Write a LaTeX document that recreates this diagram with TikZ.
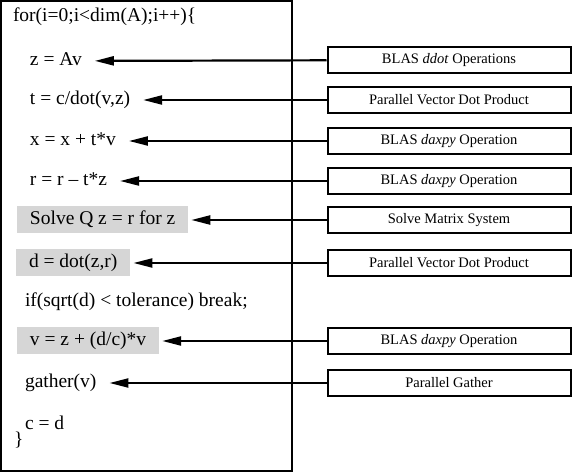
\documentclass[tikz,border=0pt]{standalone}
\usepackage{fontspec}
\setmainfont{Liberation Serif}
\usetikzlibrary{arrows.meta}

\begin{document}
\begin{tikzpicture}[x=1pt, y=-1pt,
  stmt/.style={anchor=west, font=\fontsize{19.5}{22}\selectfont, inner xsep=0pt, outer xsep=13pt, inner ysep=0pt, text height=14pt, text depth=5pt},
  shaded/.style={stmt, fill=gray!32, inner xsep=13pt, outer xsep=3pt, inner ysep=4pt},
  opbox/.style={rectangle, draw=black, line width=2pt, minimum width=243pt, minimum height=26pt, inner sep=0pt, text centered, font=\fontsize{14.5}{16}\selectfont},
  feed/.style={line width=2.2pt, -{Triangle[length=19pt,width=9pt]}}]
\useasboundingbox (0,0) rectangle (574,473);

% loop body
\draw[line width=2.6pt] (1,1) rectangle (292,471);

\node (head) [stmt] at (0,17) {for(i=0;i<dim(A);i++)\{};
\node (zav) [stmt] at (17,61) {z = Av};
\node (tdot) [stmt] at (17,100) {t = c/dot(v,z)};
\node (xupd) [stmt] at (17,141) {x = x + t*v};
\node (rupd) [stmt] at (17,181) {r = r -- t*z};
\node (solve) [shaded] at (14,220) {Solve Q z = r for z};
\node (dprod) [shaded] at (13,263) {d = dot(z,r)};
\node (test) [stmt] at (12,302) {if(sqrt(d) < tolerance) break;};
\node (vupd) [shaded] at (14,341) {v = z + (d/c)*v};
\node (gath) [stmt] at (12,383) {gather(v)};
\node (cupd) [stmt] at (12,425) {c = d};
\node (tail) [stmt] at (1,441) {\}};

% operations
\node (blas1) [opbox] at (449,60) {BLAS \textit{ddot} Operations};
\node (pdot1) [opbox] at (449,100) {Parallel Vector Dot Product};
\node (daxpy1) [opbox] at (449,141) {BLAS \textit{daxpy} Operation};
\node (daxpy2) [opbox] at (449,181) {BLAS \textit{daxpy} Operation};
\node (sys) [opbox] at (449,220) {Solve Matrix System};
\node (pdot2) [opbox] at (449,263) {Parallel Vector Dot Product};
\node (daxpy3) [opbox] at (449,341) {BLAS \textit{daxpy} Operation};
\node (pgath) [opbox] at (449,383) {Parallel Gather};

\draw[feed] (blas1) -- (zav);
\draw[feed] (pdot1) -- (tdot);
\draw[feed] (daxpy1) -- (xupd);
\draw[feed] (daxpy2) -- (rupd);
\draw[feed] (sys) -- (solve);
\draw[feed] (pdot2) -- (dprod);
\draw[feed] (daxpy3) -- (vupd);
\draw[feed] (pgath) -- (gath);

\end{tikzpicture}
\end{document}
